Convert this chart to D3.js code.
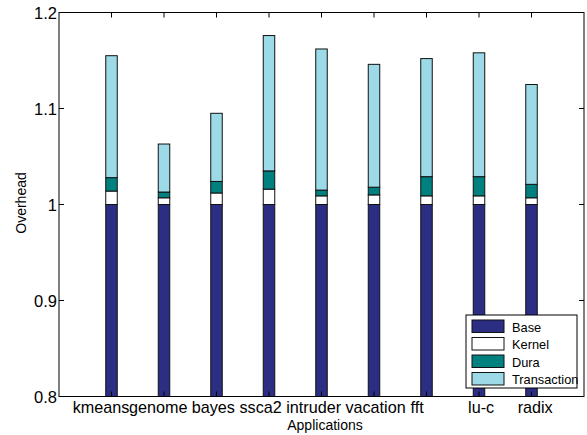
<!DOCTYPE html>
<html>
<head>
<meta charset="utf-8">
<script src="https://cdn.jsdelivr.net/npm/d3@7"></script>
<style>
  body { margin: 0; background: #fff; }
  text { font-family: "Liberation Sans", Arial, Helvetica, sans-serif; fill: #000; }
</style>
</head>
<body>
<div id="chart"></div>
<script>
// Data
const apps = ["kmeans", "genome", "bayes", "ssca2", "intruder", "vacation", "fft", "lu-c", "radix"];
const labelPos = [0.80, 1.89, 2.94, 3.84, 4.85, 6.03, 6.82, 8.04, 9.07]; // label centers in x units
const base = [1, 1, 1, 1, 1, 1, 1, 1, 1];
const kernel = [0.014, 0.007, 0.012, 0.016, 0.009, 0.010, 0.009, 0.009, 0.007];
const dura = [0.014, 0.006, 0.012, 0.019, 0.006, 0.008, 0.020, 0.020, 0.014];
const transaction = [0.127, 0.050, 0.071, 0.141, 0.147, 0.128, 0.123, 0.129, 0.104];
const seriesNames = ["Base", "Kernel", "Dura", "Transaction"];
const seriesColors = ["#2b2e82", "#ffffff", "#00807f", "#9bdae6"];
const yTicks = [0.8, 0.9, 1, 1.1, 1.2];
const yTickLabels = ["0.8", "0.9", "1", "1.1", "1.2"];

const width = 587, height = 435;
const svg = d3.select("#chart").append("svg")
    .attr("width", width)
    .attr("height", height);

const x = d3.scaleLinear().domain([0, 10]).range([59, 584]);
const y = d3.scaleLinear().domain([0.8, 1.2]).range([396.5, 12.5]);

// Stack the series on top of each other
const series = [base, kernel, dura, transaction];
const segs = [];
apps.forEach((a, i) => {
    let acc = 0;
    series.forEach((s, k) => {
        segs.push({ i, k, y0: acc, y1: acc + s[i] });
        acc += s[i];
    });
});

const barW = 11.5;
svg.append("g")
    .selectAll("rect")
    .data(segs)
    .join("rect")
    .attr("x", d => x(d.i + 1) - barW / 2)
    .attr("width", barW)
    .attr("y", d => y(d.y1))
    .attr("height", d => y(Math.max(d.y0, 0.8)) - y(d.y1))
    .attr("fill", d => seriesColors[d.k])
    .attr("stroke", "#111")
    .attr("stroke-width", 1);

// Box around the plot with inward ticks on all four sides
const frame = svg.append("g").attr("stroke", "#000").attr("fill", "none");
frame.append("rect")
    .attr("x", x(0)).attr("y", y(1.2))
    .attr("width", x(10) - x(0)).attr("height", y(0.8) - y(1.2))
    .attr("stroke-width", 1);

const xt = d3.range(1, 10);
frame.selectAll("line.xt")
    .data(xt)
    .join("line")
    .attr("x1", d => x(d)).attr("x2", d => x(d))
    .attr("y1", y(1.2)).attr("y2", y(1.2) + 5);
frame.selectAll("line.xb")
    .data(xt)
    .join("line")
    .attr("x1", d => x(d)).attr("x2", d => x(d))
    .attr("y1", y(0.8)).attr("y2", y(0.8) - 5);
frame.selectAll("line.yl")
    .data(yTicks)
    .join("line")
    .attr("x1", x(0)).attr("x2", x(0) + 5)
    .attr("y1", d => y(d)).attr("y2", d => y(d));
frame.selectAll("line.yr")
    .data(yTicks)
    .join("line")
    .attr("x1", x(10)).attr("x2", x(10) - 5)
    .attr("y1", d => y(d)).attr("y2", d => y(d));

// Y tick labels
svg.append("g")
    .selectAll("text")
    .data(yTicks)
    .join("text")
    .attr("x", x(0) - 2)
    .attr("y", d => y(d) + 6)
    .attr("text-anchor", "end")
    .attr("font-size", 16.5)
    .text((d, i) => yTickLabels[i]);

// X labels
svg.append("g")
    .selectAll("text")
    .data(apps)
    .join("text")
    .attr("x", (d, i) => x(labelPos[i]))
    .attr("y", 413)
    .attr("text-anchor", "middle")
    .attr("font-size", 16.2)
    .text(d => d);

svg.append("text")
    .attr("x", 325)
    .attr("y", 430)
    .attr("text-anchor", "middle")
    .attr("font-size", 14)
    .text("Applications");

svg.append("text")
    .attr("transform", "translate(26,203) rotate(-90)")
    .attr("text-anchor", "middle")
    .attr("font-size", 14)
    .text("Overhead");

// Legend
const lg = svg.append("g").attr("transform", "translate(466,315)");
lg.append("rect")
    .attr("width", 111).attr("height", 73)
    .attr("fill", "#fff").attr("stroke", "#000");
const item = lg.selectAll("g")
    .data(seriesNames)
    .join("g")
    .attr("transform", (d, i) => `translate(6,${5 + i * 17.5})`);
item.append("rect")
    .attr("width", 32).attr("height", 12.5)
    .attr("fill", (d, i) => seriesColors[i])
    .attr("stroke", "#111");
item.append("text")
    .attr("x", 40).attr("y", 11.5)
    .attr("font-size", 12.8)
    .text(d => d);
</script>
</body>
</html>
